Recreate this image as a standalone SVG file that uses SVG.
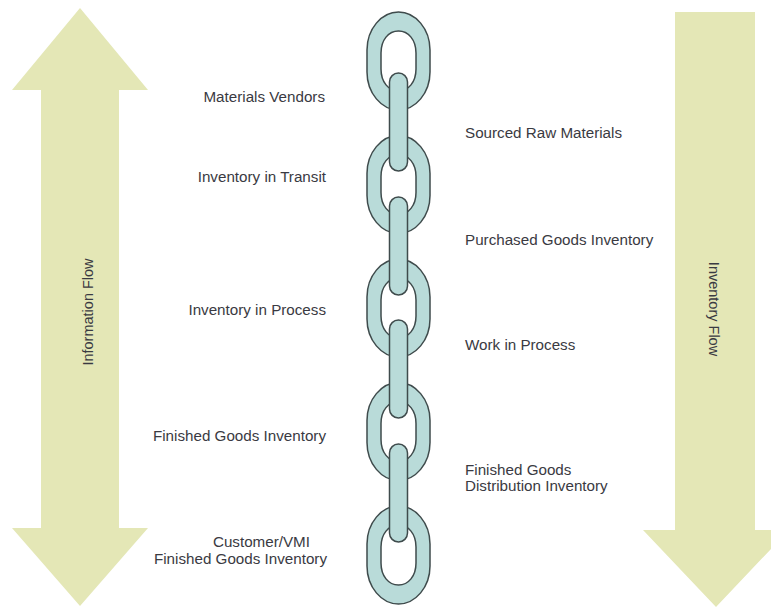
<svg xmlns="http://www.w3.org/2000/svg" xmlns:xlink="http://www.w3.org/1999/xlink" width="771" height="607" viewBox="0 0 771 607">
<style>
.arrow{fill:#e4e7b6;stroke:none}
.link{fill:#b9dbd9;stroke:#3f4b4c;stroke-width:1.5;fill-rule:evenodd}
.lbl{font-family:"Liberation Sans",Arial,sans-serif;font-size:15.2px;fill:#3a3a42}
.vlbl{font-family:"Liberation Sans",Arial,sans-serif;font-size:14.5px;fill:#3a3a42;text-anchor:middle}
.end{text-anchor:end}
</style>
<defs>
<path id="oval" d="M-31.5,-11 C-31.5,-32 -17,-49 0,-49 C17,-49 31.5,-32 31.5,-11 L31.5,11 C31.5,32 17,49 0,49 C-17,49 -31.5,32 -31.5,11 Z M-17.5,-8 C-17.5,-21 -10,-30 0,-30 C10,-30 17.5,-21 17.5,-8 L17.5,8 C17.5,21 10,30 0,30 C-10,30 -17.5,21 -17.5,8 Z"/>
</defs>
<rect width="771" height="607" fill="#ffffff"/>
<g id="information-flow">
<polygon class="arrow" points="80,8 148,90 119,90 119,528 148,528 80,606 12,528 41,528 41,90 12,90"/>
<text class="vlbl" transform="translate(93,312) rotate(-90)">Information Flow</text>
</g>
<g id="inventory-flow">
<polygon class="arrow" points="675,12 755,12 755,530 789,530 716,607 643,530 675,530"/>
<text class="vlbl" transform="translate(709,309) rotate(90)">Inventory Flow</text>
</g>
<g id="chain">
<use xlink:href="#oval" class="link" x="398.5" y="61"/>
<use xlink:href="#oval" class="link" x="398.5" y="184.5"/>
<use xlink:href="#oval" class="link" x="398.5" y="308"/>
<use xlink:href="#oval" class="link" x="398.5" y="431.5"/>
<use xlink:href="#oval" class="link" x="398.5" y="555"/>
<rect class="link" x="389.5" y="73" width="18" height="98" rx="9"/>
<rect class="link" x="389.5" y="197" width="18" height="98" rx="9"/>
<rect class="link" x="389.5" y="320" width="18" height="98" rx="9"/>
<rect class="link" x="389.5" y="444" width="18" height="98" rx="9"/>
</g>
<g id="materials-vendors"><text class="lbl end" x="325" y="102">Materials Vendors</text></g>
<g id="inventory-in-transit"><text class="lbl end" x="326" y="182">Inventory in Transit</text></g>
<g id="inventory-in-process"><text class="lbl end" x="326" y="315">Inventory in Process</text></g>
<g id="finished-goods-inventory"><text class="lbl end" x="326" y="441">Finished Goods Inventory</text></g>
<g id="customer-vmi">
<text class="lbl end" x="310" y="547">Customer/VMI</text>
<text class="lbl end" x="327" y="564">Finished Goods Inventory</text>
</g>
<g id="sourced-raw-materials"><text class="lbl" x="465" y="138">Sourced Raw Materials</text></g>
<g id="purchased-goods-inventory"><text class="lbl" x="465" y="245">Purchased Goods Inventory</text></g>
<g id="work-in-process"><text class="lbl" x="465" y="350">Work in Process</text></g>
<g id="finished-goods-distribution">
<text class="lbl" x="465" y="475">Finished Goods</text>
<text class="lbl" x="465" y="491">Distribution Inventory</text>
</g>
</svg>
